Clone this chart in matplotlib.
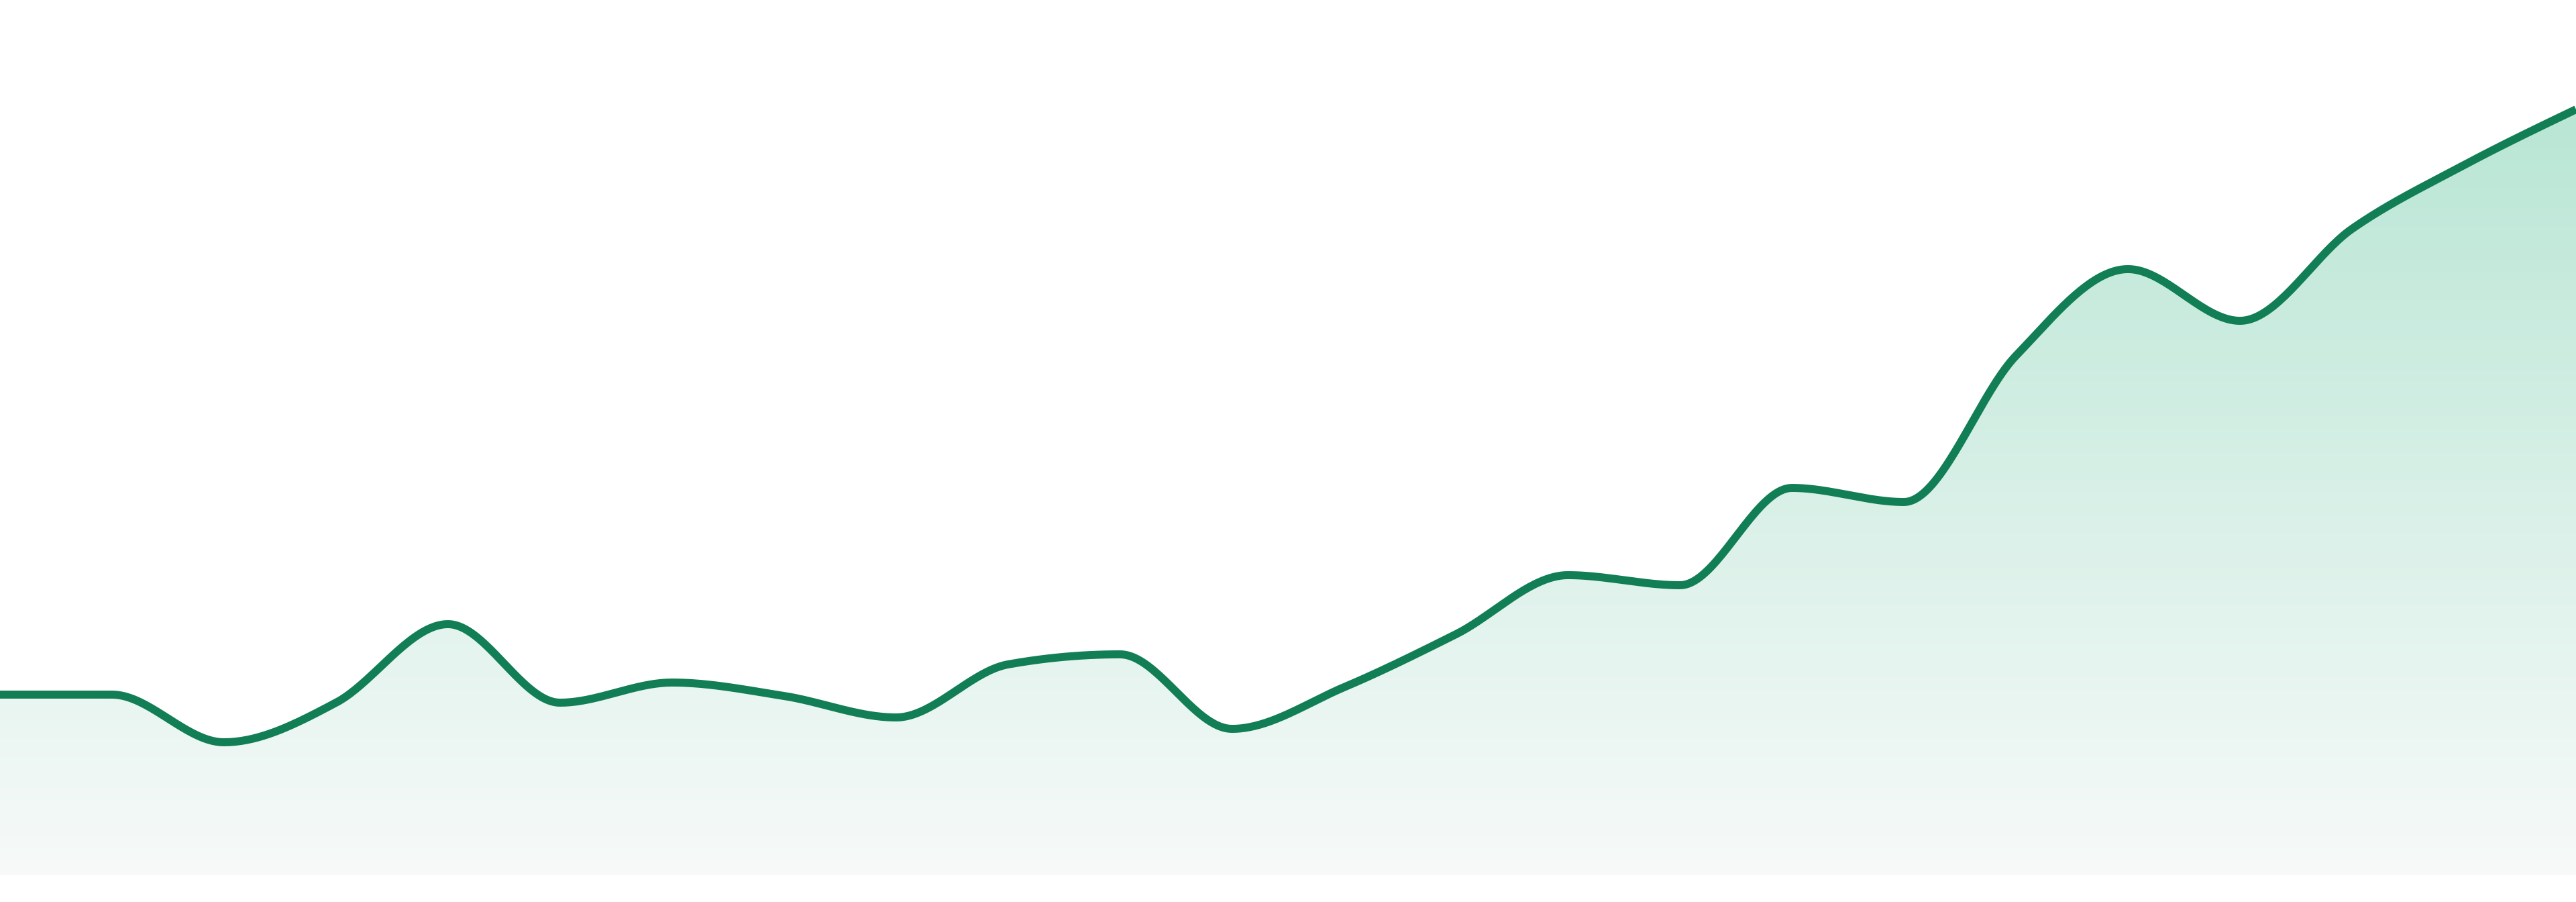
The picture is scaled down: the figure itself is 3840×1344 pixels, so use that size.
import numpy as np
import matplotlib
matplotlib.use("Agg")
import matplotlib.pyplot as plt
from matplotlib.colors import LinearSegmentedColormap

# values (height above the baseline of the fill)
values = [269, 269, 198, 257, 374, 257, 287, 267, 235, 314, 329, 218,
          280, 359, 447, 432, 577, 556, 774, 903, 826, 963, 1058, 1141]
steps = list(range(len(values)))

line_color = "#127e55"
fill_top = "#b9e6d5"
fill_bottom = "#f7faf9"


def monotone_x(x, y, n=40):
    # monotone cubic (same idea as d3 curveMonotoneX)
    x = np.asarray(x, float)
    y = np.asarray(y, float)
    h = np.diff(x)
    s = np.diff(y) / h
    m = np.zeros_like(y)
    for i in range(1, len(y) - 1):
        if s[i - 1] * s[i] <= 0:
            m[i] = 0
        else:
            p = (s[i - 1] * h[i] + s[i] * h[i - 1]) / (h[i - 1] + h[i])
            m[i] = np.sign(s[i - 1]) * min(abs(s[i - 1]), abs(s[i]), 0.5 * abs(p)) * 2
    m[0] = (3 * s[0] - m[1]) / 2 if len(y) > 2 else s[0]
    m[-1] = (3 * s[-1] - m[-2]) / 2 if len(y) > 2 else s[-1]
    xs, ys = [], []
    for i in range(len(h)):
        t = np.linspace(0, 1, n, endpoint=False)
        h00 = 2 * t**3 - 3 * t**2 + 1
        h10 = t**3 - 2 * t**2 + t
        h01 = -2 * t**3 + 3 * t**2
        h11 = t**3 - t**2
        xs.append(x[i] + t * h[i])
        ys.append(h00 * y[i] + h10 * h[i] * m[i] + h01 * y[i + 1] + h11 * h[i] * m[i + 1])
    xs.append([x[-1]])
    ys.append([y[-1]])
    return np.concatenate(xs), np.concatenate(ys)


xs, ys = monotone_x(steps, values)

fig = plt.figure(figsize=(38.4, 13.44), dpi=100)
ax = fig.add_axes([0, 0, 1, 1])
ax.set_xlim(steps[0], steps[-1])
ax.set_ylim(-40, 1304)
ax.axis("off")

# gradient fill under the line
poly = ax.fill_between(xs, 0, ys, color="none", lw=0)
cmap = LinearSegmentedColormap.from_list("g", [fill_bottom, fill_top])
grad = np.linspace(0, 1, 256).reshape(-1, 1)
img = ax.imshow(grad, cmap=cmap, aspect="auto", origin="lower",
                extent=[steps[0], steps[-1], 0, max(values)], zorder=1)
img.set_clip_path(poly.get_paths()[0], transform=ax.transData)

ax.plot(xs, ys, color=line_color, lw=8.6, solid_capstyle="butt", zorder=3)

fig.savefig("out.png", dpi=100, facecolor="white")
